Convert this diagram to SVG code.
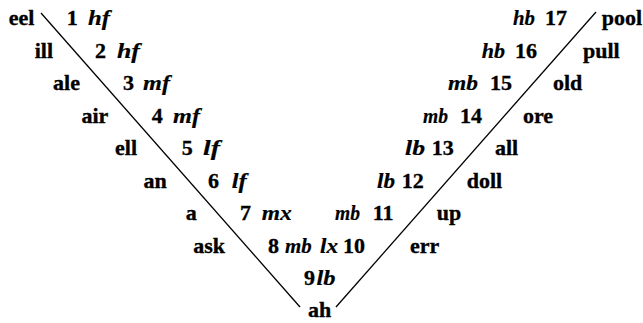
<svg xmlns="http://www.w3.org/2000/svg" width="643" height="323" viewBox="0 0 643 323">
<style>
.t text{font-size:22px;font-weight:bold;fill:#000;stroke:#000;stroke-width:0.35}
.w{text-anchor:end}
.t text.i{font-style:italic;font-size:21px;stroke-width:0.2}
.ln{stroke:#000;stroke-width:1.3;fill:none}
</style>
<rect width="643" height="323" fill="#fff"/>
<g id="connectors">
<line class="ln" x1="41" y1="13" x2="300" y2="307"/>
<line class="ln" x1="596" y1="12" x2="336" y2="307"/>
</g>
<g class="t" font-family="Liberation Serif, DejaVu Serif, serif">
<g id="left-words">
<text class="w" x="34.3" y="25">eel</text>
<text class="w" x="53" y="57.5">ill</text>
<text class="w" x="80" y="90">ale</text>
<text class="w" x="108.3" y="122.5">air</text>
<text class="w" x="137" y="155">ell</text>
<text class="w" x="166.7" y="187.5">an</text>
<text class="w" x="196.7" y="220">a</text>
<text class="w" x="225" y="252.5">ask</text>
</g>
<g id="left-labels">
<text x="66.7" y="25">1</text><text class="i" x="88" y="25" textLength="22" lengthAdjust="spacingAndGlyphs">hf</text>
<text x="95" y="57.5">2</text><text class="i" x="117" y="57.5" textLength="23" lengthAdjust="spacingAndGlyphs">hf</text>
<text x="123" y="90">3</text><text class="i" x="143" y="90" textLength="27" lengthAdjust="spacingAndGlyphs">mf</text>
<text x="151.7" y="122.5">4</text><text class="i" x="173" y="122.5" textLength="27" lengthAdjust="spacingAndGlyphs">mf</text>
<text x="181.7" y="155">5</text><text class="i" x="203" y="155" textLength="17" lengthAdjust="spacingAndGlyphs">lf</text>
<text x="208" y="187.5">6</text><text class="i" x="231.7" y="187.5" textLength="15" lengthAdjust="spacingAndGlyphs">lf</text>
<text x="240" y="220">7</text><text class="i" x="261.7" y="220" textLength="30" lengthAdjust="spacingAndGlyphs">mx</text>
<text x="268" y="252.5">8</text><text class="i" x="285" y="252.5" textLength="26.7" lengthAdjust="spacingAndGlyphs">mb</text>
<text class="i" x="320" y="252.5" textLength="18" lengthAdjust="spacingAndGlyphs">lx</text>
</g>
<g id="center">
<text x="343" y="252.5">10</text>
<text x="304" y="285">9</text><text class="i" x="316.5" y="285" textLength="19" lengthAdjust="spacingAndGlyphs">lb</text>
<text x="319.5" y="317" text-anchor="middle">ah</text>
</g>
<g id="right-labels">
<text class="i" x="513" y="25" textLength="22" lengthAdjust="spacingAndGlyphs">hb</text><text x="545" y="25">17</text>
<text class="i" x="481.7" y="57.5" textLength="23.3" lengthAdjust="spacingAndGlyphs">hb</text><text x="515" y="57.5">16</text>
<text class="i" x="448" y="90" textLength="30" lengthAdjust="spacingAndGlyphs">mb</text><text x="490" y="90">15</text>
<text class="i" x="423" y="122.5" textLength="25" lengthAdjust="spacingAndGlyphs">mb</text><text x="460" y="122.5">14</text>
<text class="i" x="405" y="155" textLength="20" lengthAdjust="spacingAndGlyphs">lb</text><text x="431.7" y="155">13</text>
<text class="i" x="377" y="187.5" textLength="18" lengthAdjust="spacingAndGlyphs">lb</text><text x="401.7" y="187.5">12</text>
<text class="i" x="335" y="220" textLength="25" lengthAdjust="spacingAndGlyphs">mb</text><text x="372.7" y="220">11</text>
</g>
<g id="right-words">
<text x="601.7" y="25">pool</text>
<text x="583" y="57.5">pull</text>
<text x="553" y="90">old</text>
<text x="523" y="122.5">ore</text>
<text x="495" y="155">all</text>
<text x="466.7" y="187.5">doll</text>
<text x="436.7" y="220">up</text>
<text x="410" y="252.5">err</text>
</g>
</g>
</svg>
